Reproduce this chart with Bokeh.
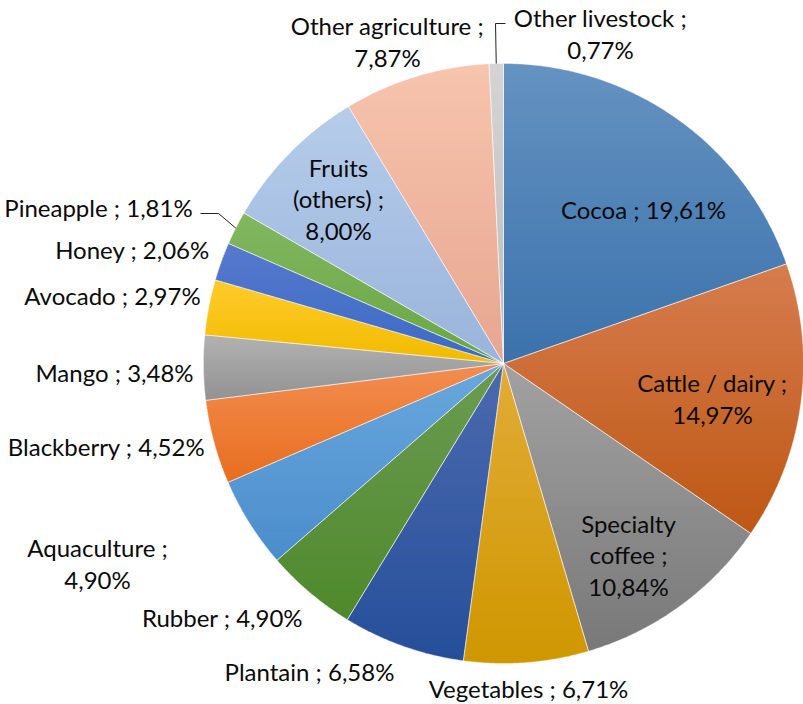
import numpy as np
from bokeh.plotting import figure
from bokeh.models import Range1d
from bokeh.core.properties import value
from bokeh.embed import file_html
from bokeh.resources import INLINE

# ---------------- data ----------------
categories = ["Cocoa", "Cattle / dairy", "Specialty coffee", "Vegetables", "Plantain",
              "Rubber", "Aquaculture", "Blackberry", "Mango", "Avocado", "Honey",
              "Pineapple", "Fruits (others)", "Other agriculture", "Other livestock"]
shares = [19.61, 14.97, 10.84, 6.71, 6.58, 4.90, 4.90, 4.52, 3.48, 2.97, 2.06,
          1.81, 8.00, 7.87, 0.77]

# gradient colours (top -> bottom of each slice)
colors_top = ["#6592c1", "#d67c4e", "#a2a2a2", "#e2ac38", "#4c6aae", "#6c9b52",
              "#6aa7dd", "#f38d52", "#b2b2b2", "#ffcb2c", "#5679cd", "#82b760",
              "#b6cdea", "#f7c4ad", "#d4d4d4"]
colors_bottom = ["#3b72ac", "#be5814", "#787878", "#cf9700", "#264f9a", "#4e892b",
                 "#4a8dcc", "#e76e1d", "#929292", "#f1bb00", "#3c6ac5", "#6aa643",
                 "#99b3dc", "#e7a690", "#bcbcbc"]

# label layout: (wrap mode, centre x, centre y of text block)
label_layout = {
    "Cocoa": ("one", 643, 209),
    "Cattle / dairy": ("two", 712, 398),
    "Specialty coffee": ("three", 628, 554),
    "Vegetables": ("one", 528, 688),
    "Plantain": ("one", 309, 671),
    "Rubber": ("one", 222, 617),
    "Aquaculture": ("two", 97, 563),
    "Blackberry": ("one", 106, 446),
    "Mango": ("one", 114, 372),
    "Avocado": ("one", 112, 295),
    "Honey": ("one", 132, 249),
    "Pineapple": ("one", 98, 207),
    "Fruits (others)": ("three", 338, 198),
    "Other agriculture": ("two", 387, 41),
    "Other livestock": ("two", 600, 33),
}
# leader lines: category -> elbow points (label side), ending on the slice rim
leaders = {
    "Pineapple": [(200, 213), (218, 213)],
    "Other livestock": [(505, 23), (495, 23)],
}

CX, CY, R = 503, 363, 300
LINE_H = 31.5
FONT = "Lato"
FSIZE = "24px"


def hex2rgb(h):
    h = h.lstrip("#")
    return np.array([int(h[i:i + 2], 16) for i in (0, 2, 4)], dtype=float)


def rgb2hex(c):
    c = np.clip(np.round(c), 0, 255).astype(int)
    return "#%02x%02x%02x" % tuple(c)


def clip_half(poly, yv, keep_below):
    out = []
    n = len(poly)
    for i in range(n):
        p = poly[i]
        q = poly[(i + 1) % n]
        pin = (p[1] >= yv) if keep_below else (p[1] <= yv)
        qin = (q[1] >= yv) if keep_below else (q[1] <= yv)
        if pin:
            out.append(p)
        if pin != qin:
            t = (yv - p[1]) / (q[1] - p[1])
            out.append((p[0] + t * (q[0] - p[0]), yv))
    return out


total = sum(shares)
cum = np.concatenate([[0], np.cumsum(shares)])
angles = cum / total * 2 * np.pi  # clockwise from 12 o'clock

band_xs, band_ys, band_cols = [], [], []
edge_xs, edge_ys = [], []
for i, cat in enumerate(categories):
    a0, a1 = angles[i], angles[i + 1]
    npts = max(4, int(np.degrees(a1 - a0) * 2))
    th = np.linspace(a0, a1, npts)
    arc = [(CX + R * np.sin(t), CY - R * np.cos(t)) for t in th]
    poly = [(CX, CY)] + arc
    edge_xs.append([p[0] for p in poly])
    edge_ys.append([p[1] for p in poly])
    ys = [p[1] for p in poly]
    ymin, ymax = min(ys), max(ys)
    nb = 40
    h = (ymax - ymin) / nb
    ct, cb = hex2rgb(colors_top[i]), hex2rgb(colors_bottom[i])
    for b in range(nb):
        lo = ymin + b * h - 0.4
        hi = ymin + (b + 1) * h + 0.4
        pc = clip_half(poly, lo, True)
        if len(pc) < 3:
            continue
        pc = clip_half(pc, hi, False)
        if len(pc) < 3:
            continue
        f = (b + 0.5) / nb
        band_xs.append([p[0] for p in pc])
        band_ys.append([p[1] for p in pc])
        band_cols.append(rgb2hex(ct + (cb - ct) * f))

p = figure(width=803, height=704, output_backend="svg", toolbar_location=None,
           x_range=Range1d(0, 803), y_range=Range1d(704, 0), min_border=0,
           background_fill_color="white", border_fill_color="white")
p.axis.visible = False
p.grid.visible = False
p.outline_line_color = None

p.patches(xs=band_xs, ys=band_ys, fill_color=band_cols, line_color=None)
p.patches(xs=edge_xs, ys=edge_ys, fill_color=None, line_color="white",
          line_alpha=0.55, line_width=0.8)

# labels
tx, ty, tt = [], [], []
for i, cat in enumerate(categories):
    pct = f"{shares[i]:.2f}".replace(".", ",") + "%"
    mode, lx, ly = label_layout[cat]
    if mode == "one":
        lines = [f"{cat} ; {pct}"]
    elif mode == "two":
        lines = [f"{cat} ;", pct]
    else:
        w = cat.split(" ", 1)
        lines = [w[0], w[1] + " ;", pct]
    n = len(lines)
    for k, s in enumerate(lines):
        tx.append(lx)
        ty.append(ly + (k - (n - 1) / 2) * LINE_H)
        tt.append(s)

p.text(x=tx, y=ty, text=tt, text_align="center", text_baseline="middle",
       text_font=value(FONT), text_font_size=FSIZE, text_color="#0a0a0a")

# leader lines ending on the rim at slice mid-angle
for cat, pts in leaders.items():
    i = categories.index(cat)
    am = (angles[i] + angles[i + 1]) / 2
    rim = (CX + R * np.sin(am), CY - R * np.cos(am))
    allp = pts + [rim]
    p.line(x=[q[0] for q in allp], y=[q[1] for q in allp], line_color="#222222",
           line_width=1)

open("out.html", "w").write(file_html(p, INLINE))
